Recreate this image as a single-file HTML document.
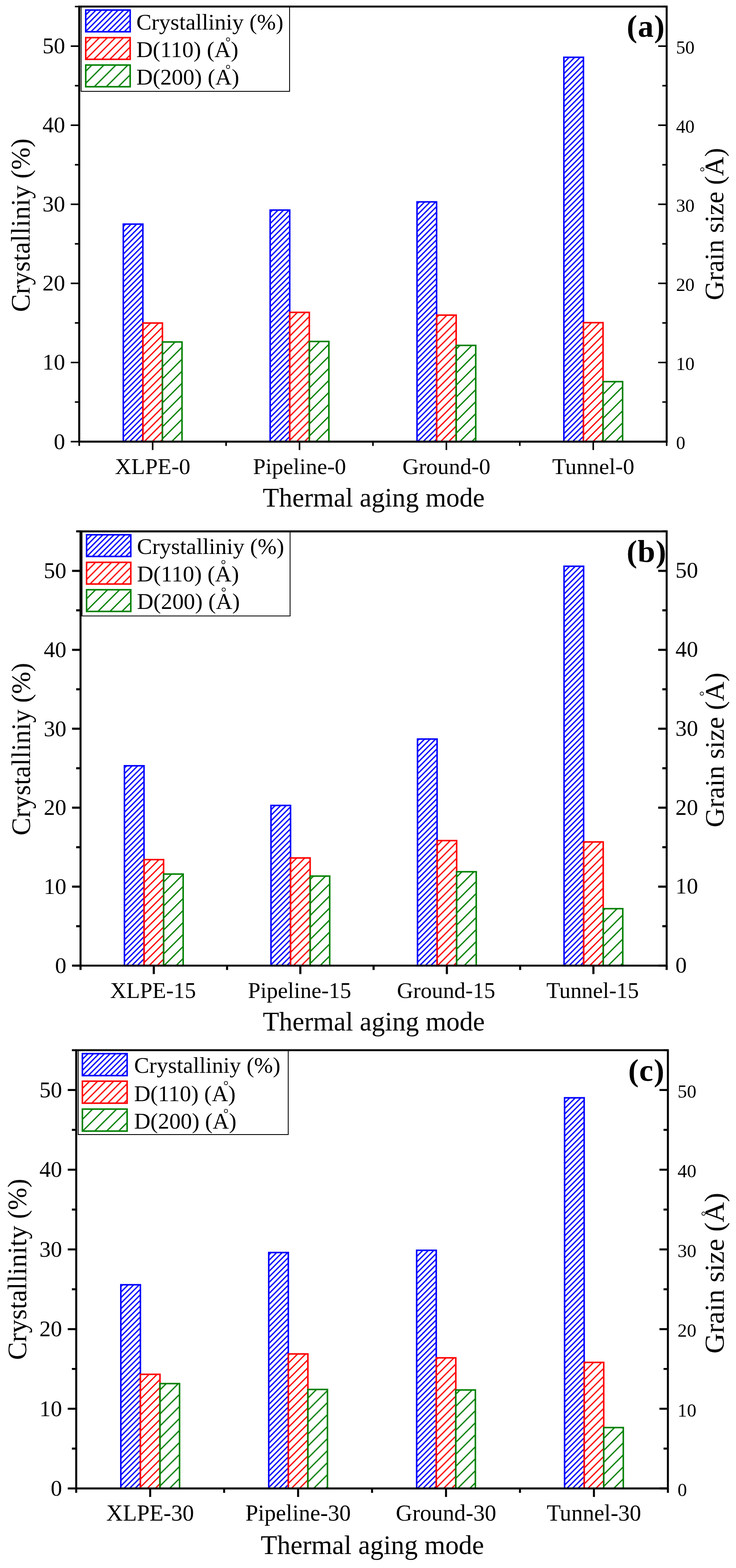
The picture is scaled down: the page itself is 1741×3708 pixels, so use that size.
<!DOCTYPE html><html><head><meta charset="utf-8"><title>Crystallinity and grain size</title>
<style>html,body{margin:0;padding:0;background:#fff;}svg{display:block;}text{font-family:"Liberation Serif", "Times New Roman", serif;fill:#000;}</style></head><body>
<svg width="1741" height="3708" viewBox="0 0 1741 3708">
<rect x="0" y="0" width="1741" height="3708" fill="#fff"/>
<defs>
<pattern id="h0" patternUnits="userSpaceOnUse" width="9.26" height="9.26" x="0" patternTransform="rotate(45)">
<rect x="0" y="0" width="3.1" height="9.26" fill="#0000FF"/>
</pattern>
<pattern id="h1" patternUnits="userSpaceOnUse" width="13.4" height="13.4" x="0" patternTransform="rotate(45)">
<rect x="0" y="0" width="3" height="13.4" fill="#FF0000"/>
</pattern>
<pattern id="h2" patternUnits="userSpaceOnUse" width="20.08" height="20.08" x="0" patternTransform="rotate(45)">
<rect x="0" y="0" width="3" height="20.08" fill="#008000"/>
</pattern>
</defs>
<g><rect x="291.65" y="530" width="46.3" height="514.3" fill="url(#h0)" stroke="#0000FF" stroke-width="3.6"/><rect x="337.95" y="763.9" width="46.3" height="280.4" fill="url(#h1)" stroke="#FF0000" stroke-width="3.6"/><rect x="384.25" y="808.7" width="46.3" height="235.6" fill="url(#h2)" stroke="#008000" stroke-width="3.6"/><rect x="639.05" y="496.8" width="46.3" height="547.5" fill="url(#h0)" stroke="#0000FF" stroke-width="3.6"/><rect x="685.35" y="738.7" width="46.3" height="305.6" fill="url(#h1)" stroke="#FF0000" stroke-width="3.6"/><rect x="731.65" y="807.5" width="46.3" height="236.8" fill="url(#h2)" stroke="#008000" stroke-width="3.6"/><rect x="986.45" y="477.4" width="46.3" height="566.9" fill="url(#h0)" stroke="#0000FF" stroke-width="3.6"/><rect x="1032.75" y="745.2" width="46.3" height="299.1" fill="url(#h1)" stroke="#FF0000" stroke-width="3.6"/><rect x="1079.05" y="816.8" width="46.3" height="227.5" fill="url(#h2)" stroke="#008000" stroke-width="3.6"/><rect x="1333.85" y="135.5" width="46.3" height="908.8" fill="url(#h0)" stroke="#0000FF" stroke-width="3.6"/><rect x="1380.15" y="763" width="46.3" height="281.3" fill="url(#h1)" stroke="#FF0000" stroke-width="3.6"/><rect x="1426.45" y="902.5" width="46.3" height="141.8" fill="url(#h2)" stroke="#008000" stroke-width="3.6"/><rect x="191.9" y="15.5" width="493.1" height="200.5" fill="#fff" stroke="#000" stroke-width="2"/><rect x="202.8" y="23.8" width="105.1" height="51.3" fill="url(#h0)" stroke="#0000FF" stroke-width="3.6"/><text x="322.4" y="69.6" font-size="53.8">Crystalliniy (%)</text><rect x="202.8" y="89" width="105.1" height="51.3" fill="url(#h1)" stroke="#FF0000" stroke-width="3.6"/><text x="322.4" y="135.2" font-size="53.8">D(110) (<tspan>A</tspan>)</text><text x="539.5" y="110.3" font-size="31" text-anchor="middle">°</text><rect x="202.8" y="153.8" width="105.1" height="51.3" fill="url(#h2)" stroke="#008000" stroke-width="3.6"/><text x="322.4" y="199.9" font-size="53.8">D(200) (<tspan>A</tspan>)</text><text x="539.5" y="174.9" font-size="31" text-anchor="middle">°</text><path d="M185.05 15.5H1579.35 M185.05 1044.3H1579.35 M187.4 15.5V1044.3 M1577 15.5V1044.3" stroke="#000" stroke-width="4.7" fill="none"/><path d="M167.4 1044.3H187.4 M1557 1044.3H1577 M177.1 950.77H187.4 M1566.7 950.77H1577 M167.4 857.25H187.4 M1557 857.25H1577 M177.1 763.72H187.4 M1566.7 763.72H1577 M167.4 670.19H187.4 M1557 670.19H1577 M177.1 576.66H187.4 M1566.7 576.66H1577 M167.4 483.14H187.4 M1557 483.14H1577 M177.1 389.61H187.4 M1566.7 389.61H1577 M167.4 296.08H187.4 M1557 296.08H1577 M177.1 202.55H187.4 M1566.7 202.55H1577 M167.4 109.03H187.4 M1557 109.03H1577 M177.1 15.5H187.4 M1566.7 15.5H1577 M361.1 1044.3V1064.3 M708.5 1044.3V1064.3 M1055.9 1044.3V1064.3 M1403.3 1044.3V1064.3 M187.4 1044.3V1054.6 M534.8 1044.3V1054.6 M882.2 1044.3V1054.6 M1229.6 1044.3V1054.6 M1577 1044.3V1054.6" stroke="#000" stroke-width="3.7" fill="none"/><text x="153.9" y="1061.5" font-size="53.5" text-anchor="end">0</text><text x="1599.2" y="1061.9" font-size="43.8">0</text><text x="153.9" y="874.45" font-size="53.5" text-anchor="end">10</text><text x="1599.2" y="874.85" font-size="43.8">10</text><text x="153.9" y="687.39" font-size="53.5" text-anchor="end">20</text><text x="1599.2" y="687.79" font-size="43.8">20</text><text x="153.9" y="500.34" font-size="53.5" text-anchor="end">30</text><text x="1599.2" y="500.74" font-size="43.8">30</text><text x="153.9" y="313.28" font-size="53.5" text-anchor="end">40</text><text x="1599.2" y="313.68" font-size="43.8">40</text><text x="153.9" y="126.23" font-size="53.5" text-anchor="end">50</text><text x="1599.2" y="126.63" font-size="43.8">50</text><text x="361.1" y="1121" font-size="53.5" text-anchor="middle">XLPE-0</text><text x="708.5" y="1121" font-size="53.5" text-anchor="middle">Pipeline-0</text><text x="1055.9" y="1121" font-size="53.5" text-anchor="middle">Ground-0</text><text x="1403.3" y="1121" font-size="53.5" text-anchor="middle">Tunnel-0</text><text x="884" y="1197.8" font-size="63" text-anchor="middle">Thermal aging mode</text><text transform="translate(69.8 532.6) rotate(-90)" x="0" y="0" font-size="63.4" text-anchor="middle">Crystalliniy (%)</text><text transform="translate(1711.3 529.9) rotate(-90)" x="0" y="0" font-size="63" text-anchor="middle">Grain size (A)</text><text transform="translate(1662 400.5) rotate(-90)" x="0" y="15.9" font-size="31" text-anchor="middle">°</text><text x="1482.6" y="87.2" font-size="74.7" font-weight="bold" letter-spacing="1.2" style="stroke:none">(a)</text></g>
<g><rect x="294.36" y="1810.9" width="46.3" height="472.6" fill="url(#h0)" stroke="#0000FF" stroke-width="3.6"/><rect x="340.66" y="2032.8" width="46.3" height="250.7" fill="url(#h1)" stroke="#FF0000" stroke-width="3.6"/><rect x="386.96" y="2067" width="46.3" height="216.5" fill="url(#h2)" stroke="#008000" stroke-width="3.6"/><rect x="640.99" y="1904.7" width="46.3" height="378.8" fill="url(#h0)" stroke="#0000FF" stroke-width="3.6"/><rect x="687.29" y="2028.9" width="46.3" height="254.6" fill="url(#h1)" stroke="#FF0000" stroke-width="3.6"/><rect x="733.59" y="2071.8" width="46.3" height="211.7" fill="url(#h2)" stroke="#008000" stroke-width="3.6"/><rect x="987.61" y="1747.7" width="46.3" height="535.8" fill="url(#h0)" stroke="#0000FF" stroke-width="3.6"/><rect x="1033.91" y="1987.8" width="46.3" height="295.7" fill="url(#h1)" stroke="#FF0000" stroke-width="3.6"/><rect x="1080.21" y="2061.5" width="46.3" height="222" fill="url(#h2)" stroke="#008000" stroke-width="3.6"/><rect x="1334.24" y="1339.1" width="46.3" height="944.4" fill="url(#h0)" stroke="#0000FF" stroke-width="3.6"/><rect x="1380.54" y="1991" width="46.3" height="292.5" fill="url(#h1)" stroke="#FF0000" stroke-width="3.6"/><rect x="1426.84" y="2148.8" width="46.3" height="134.7" fill="url(#h2)" stroke="#008000" stroke-width="3.6"/><rect x="194" y="1256.6" width="492.2" height="200" fill="#fff" stroke="#000" stroke-width="2"/><rect x="204.8" y="1264.6" width="104.6" height="51.3" fill="url(#h0)" stroke="#0000FF" stroke-width="3.6"/><text x="324" y="1310" font-size="53.8">Crystalliniy (%)</text><rect x="204.8" y="1329.8" width="104.6" height="51.3" fill="url(#h1)" stroke="#FF0000" stroke-width="3.6"/><text x="324" y="1375" font-size="53.8">D(110) (<tspan>A</tspan>)</text><text x="528.5" y="1345.8" font-size="31" text-anchor="middle">°</text><rect x="204.8" y="1394.6" width="104.6" height="51.3" fill="url(#h2)" stroke="#008000" stroke-width="3.6"/><text x="324" y="1440" font-size="53.8">D(200) (<tspan>A</tspan>)</text><text x="529.25" y="1411.25" font-size="31" text-anchor="middle">°</text><path d="M188.15 1256.6H1579.35 M188.15 2283.5H1579.35 M190.5 1256.6V2283.5 M1577 1256.6V2283.5" stroke="#000" stroke-width="4.7" fill="none"/><path d="M170.5 2283.5H190.5 M1557 2283.5H1577 M180.2 2190.15H190.5 M1566.7 2190.15H1577 M170.5 2096.79H190.5 M1557 2096.79H1577 M180.2 2003.44H190.5 M1566.7 2003.44H1577 M170.5 1910.08H190.5 M1557 1910.08H1577 M180.2 1816.73H190.5 M1566.7 1816.73H1577 M170.5 1723.37H190.5 M1557 1723.37H1577 M180.2 1630.02H190.5 M1566.7 1630.02H1577 M170.5 1536.66H190.5 M1557 1536.66H1577 M180.2 1443.31H190.5 M1566.7 1443.31H1577 M170.5 1349.95H190.5 M1557 1349.95H1577 M180.2 1256.6H190.5 M1566.7 1256.6H1577 M363.81 2283.5V2303.5 M710.44 2283.5V2303.5 M1057.06 2283.5V2303.5 M1403.69 2283.5V2303.5 M190.5 2283.5V2293.8 M537.12 2283.5V2293.8 M883.75 2283.5V2293.8 M1230.38 2283.5V2293.8 M1577 2283.5V2293.8" stroke="#000" stroke-width="5" fill="none"/><text x="157" y="2300.7" font-size="53.5" text-anchor="end">0</text><text x="1597.8" y="2300" font-size="53.5">0</text><text x="157" y="2113.99" font-size="53.5" text-anchor="end">10</text><text x="1597.8" y="2113.29" font-size="53.5">10</text><text x="157" y="1927.28" font-size="53.5" text-anchor="end">20</text><text x="1597.8" y="1926.58" font-size="53.5">20</text><text x="157" y="1740.57" font-size="53.5" text-anchor="end">30</text><text x="1597.8" y="1739.87" font-size="53.5">30</text><text x="157" y="1553.86" font-size="53.5" text-anchor="end">40</text><text x="1597.8" y="1553.16" font-size="53.5">40</text><text x="157" y="1367.15" font-size="53.5" text-anchor="end">50</text><text x="1597.8" y="1366.45" font-size="53.5">50</text><text x="362.01" y="2360" font-size="53" text-anchor="middle">XLPE-15</text><text x="708.64" y="2360" font-size="53" text-anchor="middle">Pipeline-15</text><text x="1055.26" y="2360" font-size="53" text-anchor="middle">Ground-15</text><text x="1401.89" y="2360" font-size="53" text-anchor="middle">Tunnel-15</text><text x="884.25" y="2437" font-size="63" text-anchor="middle">Thermal aging mode</text><text transform="translate(70.8 1771.6) rotate(-90)" x="0" y="0" font-size="63.1" text-anchor="middle">Crystalliniy (%)</text><text transform="translate(1712.3 1773.5) rotate(-90)" x="0" y="0" font-size="64" text-anchor="middle">Grain size (A)</text><text transform="translate(1661.1 1640.25) rotate(-90)" x="0" y="15.9" font-size="31" text-anchor="middle">°</text><text x="1482.3" y="1328.5" font-size="74.7" font-weight="bold" letter-spacing="1.2" style="stroke:none">(b)</text></g>
<g><rect x="285.8" y="3038.2" width="46.3" height="481.7" fill="url(#h0)" stroke="#0000FF" stroke-width="3.6"/><rect x="332.1" y="3250" width="46.3" height="269.9" fill="url(#h1)" stroke="#FF0000" stroke-width="3.6"/><rect x="378.4" y="3271.9" width="46.3" height="248" fill="url(#h2)" stroke="#008000" stroke-width="3.6"/><rect x="635.7" y="2962" width="46.3" height="557.9" fill="url(#h0)" stroke="#0000FF" stroke-width="3.6"/><rect x="682" y="3201.8" width="46.3" height="318.1" fill="url(#h1)" stroke="#FF0000" stroke-width="3.6"/><rect x="728.3" y="3285.8" width="46.3" height="234.1" fill="url(#h2)" stroke="#008000" stroke-width="3.6"/><rect x="985.6" y="2956.7" width="46.3" height="563.2" fill="url(#h0)" stroke="#0000FF" stroke-width="3.6"/><rect x="1031.9" y="3211" width="46.3" height="308.9" fill="url(#h1)" stroke="#FF0000" stroke-width="3.6"/><rect x="1078.2" y="3287" width="46.3" height="232.9" fill="url(#h2)" stroke="#008000" stroke-width="3.6"/><rect x="1335.5" y="2596.1" width="46.3" height="923.8" fill="url(#h0)" stroke="#0000FF" stroke-width="3.6"/><rect x="1381.8" y="3221.8" width="46.3" height="298.1" fill="url(#h1)" stroke="#FF0000" stroke-width="3.6"/><rect x="1428.1" y="3375.9" width="46.3" height="144" fill="url(#h2)" stroke="#008000" stroke-width="3.6"/><rect x="185" y="2483.5" width="496.8" height="199.5" fill="#fff" stroke="#000" stroke-width="2"/><rect x="194.9" y="2491.6" width="105.8" height="52" fill="url(#h0)" stroke="#0000FF" stroke-width="3.6"/><text x="317.2" y="2537" font-size="53.5">Crystalliniy (%)</text><rect x="194.9" y="2556.8" width="105.8" height="52" fill="url(#h1)" stroke="#FF0000" stroke-width="3.6"/><text x="317.2" y="2603.7" font-size="53.5">D(110) (<tspan>A</tspan>)</text><text x="534.5" y="2577.8" font-size="31" text-anchor="middle">°</text><rect x="194.9" y="2622.8" width="105.8" height="52" fill="url(#h2)" stroke="#008000" stroke-width="3.6"/><text x="317.2" y="2669" font-size="53.5">D(200) (<tspan>A</tspan>)</text><text x="534.5" y="2643.8" font-size="31" text-anchor="middle">°</text><path d="M177.95 2483.5H1582.25 M177.95 3519.9H1582.25 M180.3 2483.5V3519.9 M1579.9 2483.5V3519.9" stroke="#000" stroke-width="4.7" fill="none"/><path d="M160.3 3519.9H180.3 M1559.9 3519.9H1579.9 M170 3425.68H180.3 M1569.6 3425.68H1579.9 M160.3 3331.46H180.3 M1559.9 3331.46H1579.9 M170 3237.25H180.3 M1569.6 3237.25H1579.9 M160.3 3143.03H180.3 M1559.9 3143.03H1579.9 M170 3048.81H180.3 M1569.6 3048.81H1579.9 M160.3 2954.59H180.3 M1559.9 2954.59H1579.9 M170 2860.37H180.3 M1569.6 2860.37H1579.9 M160.3 2766.15H180.3 M1559.9 2766.15H1579.9 M170 2671.94H180.3 M1569.6 2671.94H1579.9 M160.3 2577.72H180.3 M1559.9 2577.72H1579.9 M170 2483.5H180.3 M1569.6 2483.5H1579.9 M355.25 3519.9V3539.9 M705.15 3519.9V3539.9 M1055.05 3519.9V3539.9 M1404.95 3519.9V3539.9 M180.3 3519.9V3530.2 M530.2 3519.9V3530.2 M880.1 3519.9V3530.2 M1230 3519.9V3530.2 M1579.9 3519.9V3530.2" stroke="#000" stroke-width="4.7" fill="none"/><text x="146.8" y="3537.1" font-size="53.5" text-anchor="end">0</text><text x="1602.7" y="3538.1" font-size="44.6">0</text><text x="146.8" y="3348.66" font-size="53.5" text-anchor="end">10</text><text x="1602.7" y="3349.66" font-size="44.6">10</text><text x="146.8" y="3160.23" font-size="53.5" text-anchor="end">20</text><text x="1602.7" y="3161.23" font-size="44.6">20</text><text x="146.8" y="2971.79" font-size="53.5" text-anchor="end">30</text><text x="1602.7" y="2972.79" font-size="44.6">30</text><text x="146.8" y="2783.35" font-size="53.5" text-anchor="end">40</text><text x="1602.7" y="2784.35" font-size="44.6">40</text><text x="146.8" y="2594.92" font-size="53.5" text-anchor="end">50</text><text x="1602.7" y="2595.92" font-size="44.6">50</text><text x="355.25" y="3595.7" font-size="54.1" text-anchor="middle">XLPE-30</text><text x="705.15" y="3595.7" font-size="54.1" text-anchor="middle">Pipeline-30</text><text x="1055.05" y="3595.7" font-size="54.1" text-anchor="middle">Ground-30</text><text x="1404.95" y="3595.7" font-size="54.1" text-anchor="middle">Tunnel-30</text><text x="880.9" y="3675" font-size="63.4" text-anchor="middle">Thermal aging mode</text><text transform="translate(61.6 3001.7) rotate(-90)" x="0" y="0" font-size="63.5" text-anchor="middle">Crystallinity (%)</text><text transform="translate(1711.8 3010.7) rotate(-90)" x="0" y="0" font-size="66.5" text-anchor="middle">Grain size (A)</text><text transform="translate(1665 2870) rotate(-90)" x="0" y="15.9" font-size="31" text-anchor="middle">°</text><text x="1486" y="2555.5" font-size="74.7" font-weight="bold" letter-spacing="1.2" style="stroke:none">(c)</text></g>
</svg></body></html>
